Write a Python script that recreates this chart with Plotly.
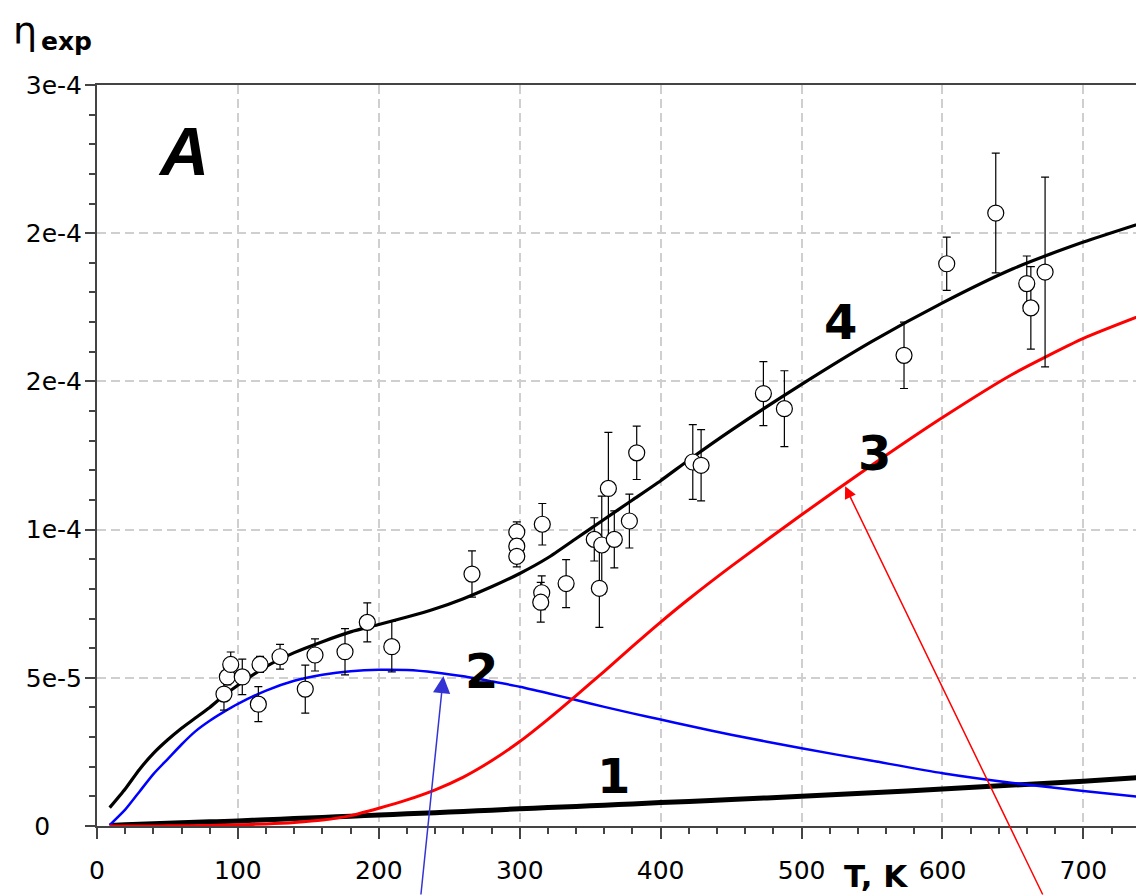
import plotly.graph_objects as go

# ---- model curves (T in K, eta dimensionless) ----
T_curve = [9, 20, 30, 40, 50, 60, 70, 80, 90, 100, 120, 140, 160, 180, 200, 220, 240, 260,
           280, 300, 320, 340, 360, 380, 400, 420, 450, 500, 550, 600, 650, 700, 745]

curve1 = [0.2e-6, 0.4e-6, 0.6e-6, 0.8e-6, 0.95e-6, 1.1e-6, 1.25e-6, 1.4e-6, 1.55e-6, 1.7e-6,
          2.1e-6, 2.5e-6, 2.9e-6, 3.3e-6, 3.7e-6, 4.1e-6, 4.5e-6, 4.9e-6, 5.35e-6, 5.8e-6,
          6.2e-6, 6.6e-6, 7.0e-6, 7.45e-6, 7.9e-6, 8.3e-6, 8.95e-6, 10.0e-6, 11.2e-6, 12.5e-6,
          13.8e-6, 15.1e-6, 16.5e-6]

curve2 = [0.03e-5, 0.55e-5, 1.15e-5, 1.75e-5, 2.25e-5, 2.75e-5, 3.2e-5, 3.55e-5, 3.85e-5, 4.12e-5,
          4.57e-5, 4.9e-5, 5.1e-5, 5.22e-5, 5.27e-5, 5.26e-5, 5.18e-5, 5.05e-5, 4.88e-5, 4.7e-5,
          4.48e-5, 4.25e-5, 4.02e-5, 3.8e-5, 3.59e-5, 3.38e-5, 3.08e-5, 2.62e-5, 2.2e-5, 1.78e-5,
          1.45e-5, 1.18e-5, 0.96e-5]

curve3 = [0.0, 0.0, 0.0, 0.0, 0.005e-5, 0.01e-5, 0.01e-5, 0.02e-5, 0.03e-5, 0.04e-5,
          0.07e-5, 0.12e-5, 0.2e-5, 0.35e-5, 0.6e-5, 0.88e-5, 1.22e-5, 1.65e-5, 2.2e-5, 2.85e-5,
          3.6e-5, 4.4e-5, 5.22e-5, 6.06e-5, 6.88e-5, 7.66e-5, 8.76e-5, 10.5e-5, 12.18e-5, 13.78e-5,
          15.25e-5, 16.45e-5, 17.3e-5]

curve4 = [0.62e-5, 1.25e-5, 1.9e-5, 2.45e-5, 2.9e-5, 3.3e-5, 3.65e-5, 4.0e-5, 4.4e-5, 4.75e-5,
          5.38e-5, 5.85e-5, 6.22e-5, 6.55e-5, 6.8e-5, 7.05e-5, 7.33e-5, 7.67e-5, 8.07e-5, 8.52e-5,
          9.05e-5, 9.7e-5, 10.35e-5, 11.0e-5, 11.65e-5, 12.35e-5, 13.35e-5, 14.9e-5, 16.35e-5, 17.65e-5,
          18.8e-5, 19.7e-5, 20.4e-5]

# ---- experimental points ----
T_exp = [90.1, 92.5, 94.9, 103.1, 114.5, 115.7, 129.9, 147.8, 154.7, 176.0, 191.8, 209.2,
         266.1, 297.9, 297.9, 297.9, 316.0, 315.6, 314.9, 332.9, 352.9, 356.5, 358.2, 362.9,
         367.1, 377.8, 383.0, 422.8, 428.7, 472.9, 487.8, 572.7, 603.0, 637.8, 659.8, 662.7, 672.8]
eta_exp = [4.45e-5, 5.03e-5, 5.45e-5, 5.03e-5, 4.11e-5, 5.45e-5, 5.71e-5, 4.62e-5, 5.77e-5,
           5.88e-5, 6.87e-5, 6.05e-5, 8.50e-5, 9.92e-5, 9.44e-5, 9.10e-5, 10.18e-5, 7.87e-5,
           7.55e-5, 8.18e-5, 9.67e-5, 8.02e-5, 9.48e-5, 11.39e-5, 9.67e-5, 10.29e-5, 12.59e-5,
           12.28e-5, 12.17e-5, 14.59e-5, 14.08e-5, 15.88e-5, 18.97e-5, 20.68e-5, 18.30e-5,
           17.48e-5, 18.69e-5]
eta_err = [5.4e-6, 2.7e-6, 4.2e-6, 6.0e-6, 5.9e-6, 2.7e-6, 4.2e-6, 8.1e-6, 5.4e-6, 7.8e-6,
           6.6e-6, 8.5e-6, 7.8e-6, 3.4e-6, 2.7e-6, 3.6e-6, 7.0e-6, 5.7e-6, 6.7e-6, 8.1e-6,
           7.3e-6, 13.2e-6, 16.5e-6, 18.9e-6, 9.6e-6, 9.1e-6, 9.0e-6, 12.6e-6, 12.0e-6, 10.8e-6,
           12.8e-6, 11.2e-6, 9.0e-6, 20.2e-6, 9.3e-6, 13.9e-6, 32.0e-6]

# ---- axes ----
x_ticks = [0, 100, 200, 300, 400, 500, 600, 700]
y_ticks = [0, 5e-5, 1e-4, 1.5e-4, 2e-4, 2.5e-4]
y_ticktext = ["0\u00a0\u00a0\u00a0\u00a0", "5e-5", "1e-4", "2e-4", "2e-4", "3e-4"]

curve_labels = ["1", "2", "3", "4"]

AX = "#444444"
TICKFONT = dict(family="DejaVu Sans", size=25, color="black")

fig = go.Figure()
fig.add_trace(go.Scatter(x=T_curve, y=curve1, mode="lines",
                         line=dict(color="black", width=5, shape="spline", smoothing=0.6)))
fig.add_trace(go.Scatter(x=T_curve, y=curve2, mode="lines",
                         line=dict(color="#0000ff", width=2.5, shape="spline", smoothing=0.6)))
fig.add_trace(go.Scatter(x=T_curve, y=curve3, mode="lines",
                         line=dict(color="#ff0000", width=3, shape="spline", smoothing=0.6)))
fig.add_trace(go.Scatter(x=T_curve, y=curve4, mode="lines",
                         line=dict(color="black", width=3.2, shape="spline", smoothing=0.6)))
fig.add_trace(go.Scatter(
    x=T_exp, y=eta_exp, mode="markers",
    marker=dict(symbol="circle", size=16, color="white", line=dict(color="black", width=1.2)),
    error_y=dict(type="data", array=eta_err, visible=True, color="black", thickness=1.2, width=4),
))

# page body has an 8px margin: figure origin sits at (8, 8) in the window
fig.update_layout(
    width=1136, height=888,
    margin=dict(l=89, r=0, t=77, b=70, autoexpand=False),
    plot_bgcolor="white", paper_bgcolor="white",
    showlegend=False,
    xaxis=dict(
        range=[0, 743], tickmode="array", tickvals=x_ticks, automargin=False,
        ticks="outside", ticklen=11, tickwidth=2, tickcolor=AX,
        showline=True, linecolor=AX, linewidth=2, mirror=True,
        showgrid=True, gridcolor="#cfcfcf", gridwidth=1.5, griddash="9px,5px",
        zeroline=False, tickfont=TICKFONT, ticklabelstandoff=10,
        minor=dict(tickmode="linear", tick0=0, dtick=20, ticks="outside", ticklen=6,
                   tickwidth=1.5, tickcolor=AX, showgrid=False),
    ),
    yaxis=dict(
        range=[0, 2.5e-4], tickmode="array", tickvals=y_ticks, ticktext=y_ticktext,
        automargin=False,
        ticks="outside", ticklen=10, tickwidth=2, tickcolor=AX,
        showline=True, linecolor=AX, linewidth=2, mirror=False,
        showgrid=True, gridcolor="#cfcfcf", gridwidth=1.5, griddash="9px,5px",
        zeroline=False, tickfont=TICKFONT, ticklabelstandoff=-2,
        minor=dict(tickmode="linear", tick0=0, dtick=1e-5, ticks="outside", ticklen=6,
                   tickwidth=1.5, tickcolor=AX, showgrid=False),
    ),
)

def px2paper(px, py):
    # window pixel -> paper coords (plot area spans x 97..1144, y 85..826 in the window)
    return (px - 97) / 1047.0, (826 - py) / 741.0

annots = []
label_pos = [(613, 776), (481, 671), (874, 453), (840, 322)]
for lab, (px, py) in zip(curve_labels, label_pos):
    xp, yp = px2paper(px, py)
    annots.append(dict(x=xp, y=yp, xref="paper", yref="paper", text=lab, showarrow=False,
                       xanchor="center", yanchor="middle",
                       font=dict(family="DejaVu Sans", size=48, color="black", weight="bold")))

xp, yp = px2paper(183, 151)
annots.append(dict(x=xp, y=yp, xref="paper", yref="paper", text="<b><i>A</i></b>", showarrow=False,
                   xanchor="center", yanchor="middle",
                   font=dict(family="Liberation Sans, Arial", size=68, color="black")))

xp, yp = px2paper(876, 876)
annots.append(dict(x=xp, y=yp, xref="paper", yref="paper", text="<b>T, K</b>", showarrow=False,
                   xanchor="center", yanchor="middle",
                   font=dict(family="DejaVu Sans", size=31, color="black")))

xp, yp = px2paper(25, 31)
annots.append(dict(x=xp, y=yp, xref="paper", yref="paper", text="η", showarrow=False,
                   xanchor="center", yanchor="middle",
                   font=dict(family="DejaVu Sans", size=38, color="black")))
xp, yp = px2paper(66, 41)
annots.append(dict(x=xp, y=yp, xref="paper", yref="paper", text="<b>exp</b>", showarrow=False,
                   xanchor="center", yanchor="middle",
                   font=dict(family="DejaVu Sans", size=25, color="black")))

# arrows
annots.append(dict(x=245.8, y=5.06e-5, xref="x", yref="y", text="", showarrow=True,
                   ax=-22.6, ay=220, arrowcolor="#3434d4", arrowwidth=1.5,
                   arrowhead=2, arrowsize=2.3, standoff=0))
annots.append(dict(x=530.9, y=1.146e-4, xref="x", yref="y", text="", showarrow=True,
                   ax=198.3, ay=410, arrowcolor="#ff0000", arrowwidth=1.5,
                   arrowhead=2, arrowsize=1.6, standoff=0))

fig.update_layout(annotations=annots)
fig.write_html("out.html")
